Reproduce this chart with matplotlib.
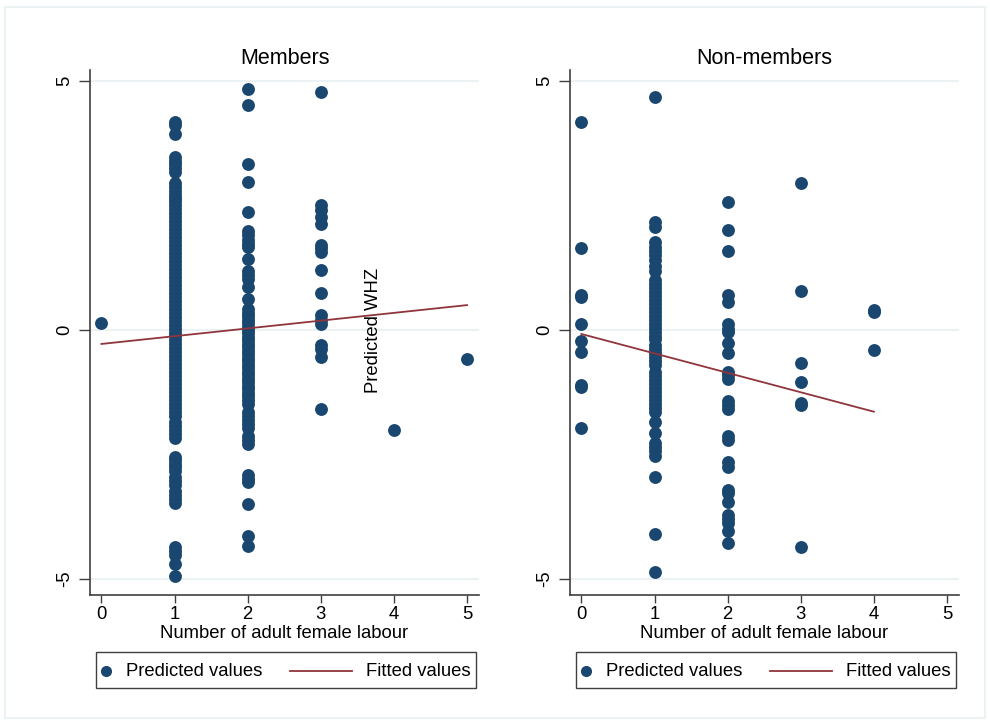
import matplotlib
matplotlib.use("Agg")
import matplotlib.pyplot as plt
import numpy as np
from matplotlib.patches import Rectangle
from matplotlib.lines import Line2D

plt.rcParams['font.family'] = ['Liberation Sans', 'DejaVu Sans']

# ---------------- data ----------------
panel_titles = ["Members", "Non-members"]
x_label = "Number of adult female labour"
y_label = "Predicted WHZ"
legend_labels = ["Predicted values", "Fitted values"]
x_ticks = [0, 1, 2, 3, 4, 5]
y_ticks = [-5, 0, 5]

# Members: predicted WHZ by number of adult female labour
mem_x0 = [0.15]
mem_x1 = [4.17, 4.12, 3.93, 3.47, 3.40, 3.33, 3.25, 3.17, 2.95, 2.88, 2.80, 2.72,
          2.65, 2.58, 2.50, 2.43, 2.35, 2.27, 2.19, 2.11, 2.03, 1.95, 1.87, 1.79,
          1.71, 1.63, 1.55, 1.47, 1.39, 1.31, 1.23, 1.15, 1.07, 0.99, 0.91, 0.83,
          0.75, 0.67, 0.59, 0.51, 0.43, 0.35, 0.27, 0.19, 0.11, 0.03, -0.05, -0.13,
          -0.21, -0.29, -0.37, -0.45, -0.53, -0.61, -0.69, -0.77, -0.85, -0.93,
          -1.01, -1.09, -1.17, -1.25, -1.33, -1.41, -1.49, -1.57, -1.65, -1.72,
          -1.84, -1.92, -2.00, -2.08, -2.17, -2.54, -2.61, -2.68, -2.76, -2.83,
          -2.96, -3.04, -3.12, -3.24, -3.32, -3.40, -3.48, -4.35, -4.43, -4.52,
          -4.70, -4.94]
mem_x2 = [4.84, 4.52, 3.33, 2.97, 2.37, 1.99, 1.90, 1.81, 1.73, 1.66, 1.43, 1.18,
          1.10, 1.02, 0.86, 0.62, 0.42, 0.35, 0.28, 0.21, 0.14, 0.07, 0.00, -0.07,
          -0.14, -0.21, -0.28, -0.35, -0.42, -0.49, -0.56, -0.63, -0.70, -0.77,
          -0.84, -0.91, -0.98, -1.05, -1.12, -1.19, -1.26, -1.33, -1.40, -1.49,
          -1.64, -1.72, -1.80, -1.88, -1.97, -2.13, -2.20, -2.28, -2.92, -3.00,
          -3.05, -3.49, -4.14, -4.34]
mem_x3 = [4.77, 2.50, 2.40, 2.26, 2.12, 1.71, 1.64, 1.57, 1.20, 0.74, 0.30, 0.20,
          0.13, -0.30, -0.38, -0.54, -1.58]
mem_x4 = [-2.01]
mem_x5 = [-0.59]
mem_fit_intercept = -0.28
mem_fit_slope = 0.156
mem_fit_range = [0, 5]

# Non-members
non_x0 = [4.17, 1.65, 0.70, 0.66, 0.12, -0.23, -0.45, -1.11, -1.14, -1.96]
non_x1 = [4.68, 2.16, 2.07, 1.76, 1.67, 1.58, 1.50, 1.40, 1.29, 1.19, 1.00, 0.92,
          0.84, 0.76, 0.68, 0.60, 0.52, 0.44, 0.36, 0.28, 0.20, 0.12, 0.04, -0.04,
          -0.12, -0.19, -0.30, -0.38, -0.46, -0.54, -0.62, -0.71, -0.85, -0.93,
          -1.01, -1.09, -1.17, -1.25, -1.33, -1.41, -1.49, -1.57, -1.64, -1.84,
          -2.06, -2.26, -2.34, -2.42, -2.53, -2.96, -4.09, -4.85]
non_x2 = [2.56, 2.01, 1.58, 0.70, 0.57, 0.12, 0.02, -0.04, -0.26, -0.46, -0.84,
          -0.91, -0.99, -1.42, -1.50, -1.58, -2.13, -2.20, -2.65, -2.76, -3.21,
          -3.28, -3.46, -3.72, -3.80, -3.88, -4.03, -4.28]
non_x3 = [2.96, 0.79, -0.66, -1.05, -1.47, -1.51, -4.35]
non_x4 = [0.40, 0.36, -0.41]
non_fit_intercept = -0.08
non_fit_slope = -0.39
non_fit_range = [0, 4]

# ---------------- style ----------------
NAVY = "#1a476f"
MAROON = "#90353b"
GRID = "#eaf2f3"
AXC = "#404040"
FS = 13.3
FS_TITLE = 15.5

W, H = 990, 724
fig = plt.figure(figsize=(W / 100, H / 100), dpi=100)
fig.patch.set_facecolor("white")


def fx(px):
    return px / W


def fy(py):
    return 1 - py / H


# outer frame
fig.add_artist(Rectangle((fx(5), fy(718)), fx(980), 711 / H, transform=fig.transFigure,
                         fill=False, edgecolor=GRID, linewidth=1.5))

panels = [
    (90, [mem_x0, mem_x1, mem_x2, mem_x3, mem_x4, mem_x5],
     mem_fit_intercept, mem_fit_slope, mem_fit_range),
    (570, [non_x0, non_x1, non_x2, non_x3, non_x4],
     non_fit_intercept, non_fit_slope, non_fit_range),
]

ax_w_px = 389
ax_top_px, ax_bot_px = 70, 595

for i, (left_px, groups, b0, b1, rng) in enumerate(panels):
    ax = fig.add_axes([fx(left_px), fy(ax_bot_px), ax_w_px / W, (ax_bot_px - ax_top_px) / H])
    ax.set_xlim(-0.156, 5.164)
    ax.set_ylim(-5.32, 5.22)
    for yt in y_ticks:
        ax.axhline(yt, color=GRID, linewidth=1.5, zorder=0)
    for xv, vals in enumerate(groups):
        ax.scatter([xv] * len(vals), vals, s=86, color=NAVY, linewidths=0, zorder=3)
    xf = np.array(rng, dtype=float)
    ax.plot(xf, b0 + b1 * xf, color=MAROON, linewidth=1.3, zorder=4)

    ax.set_xticks(x_ticks)
    ax.set_xticklabels([str(t) for t in x_ticks])
    ax.set_yticks(y_ticks)
    ax.set_yticklabels([str(t) for t in y_ticks], rotation=90, va="center")
    ax.tick_params(axis="y", length=8, width=1, color=AXC, labelsize=FS, pad=4)
    ax.tick_params(axis="x", length=6, width=1, color=AXC, labelsize=FS, pad=2)
    for s in ["top", "right"]:
        ax.spines[s].set_visible(False)
    for s in ["left", "bottom"]:
        ax.spines[s].set_color(AXC)
        ax.spines[s].set_linewidth(1.2)
    ax.set_xlabel(x_label, fontsize=FS, labelpad=1)
    ax.set_title(panel_titles[i], fontsize=FS_TITLE, pad=4)

    # legend box (manual, Stata style)
    lx0 = left_px + 6
    lx1 = left_px + 386
    ly0, ly1 = 652, 688
    fig.add_artist(Rectangle((fx(lx0), fy(ly1)), (lx1 - lx0) / W, (ly1 - ly0) / H,
                             transform=fig.transFigure, fill=False,
                             edgecolor=AXC, linewidth=1.0))
    ymid = fy((ly0 + ly1) / 2 + 1)
    fig.add_artist(Line2D([fx(lx0 + 10)], [ymid], marker="o", markersize=7,
                          color=NAVY, linestyle="none", transform=fig.transFigure))
    fig.text(fx(lx0 + 30), ymid, legend_labels[0], fontsize=FS, va="center", ha="left")
    fig.add_artist(Line2D([fx(lx0 + 194), fx(lx0 + 256)], [ymid, ymid], color=MAROON,
                          linewidth=1.3, transform=fig.transFigure))
    fig.text(fx(lx1 - 5), ymid, legend_labels[1], fontsize=FS, va="center", ha="right")

# misplaced y-axis title, as in the original
fig.text(fx(373), fy(330), y_label, rotation=90, fontsize=FS, ha="center", va="center")

fig.savefig("out.png", dpi=100, facecolor="white")
